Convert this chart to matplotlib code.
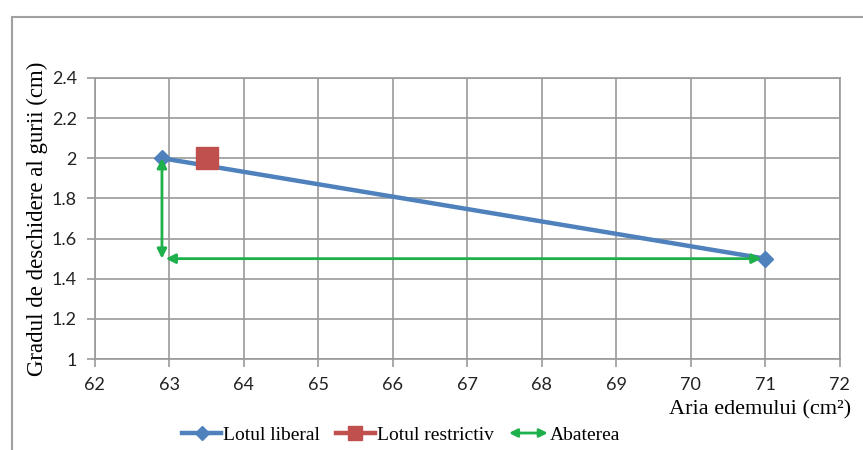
import matplotlib
matplotlib.use("Agg")
import matplotlib.pyplot as plt
from matplotlib.lines import Line2D
from matplotlib.patches import Rectangle, FancyArrowPatch
from matplotlib.legend_handler import HandlerBase

# data
liberal_x = [62.9, 71.0]
liberal_y = [2.0, 1.5]
restrictiv_x = [63.5]
restrictiv_y = [2.0]
# deviation arrows: (x0, y0, x1, y1)
abatere_vert = [62.9, 2.0, 62.9, 1.5]
abatere_horiz = [62.95, 1.5, 70.95, 1.5]

x_ticks = list(range(62, 73))
y_ticks = [1, 1.2, 1.4, 1.6, 1.8, 2, 2.2, 2.4]
y_labels = ["1", "1.2", "1.4", "1.6", "1.8", "2", "2.2", "2.4"]

BLUE = "#4F81BD"
RED = "#C0504D"
GREEN = "#1DB04B"
GRID = "#9A9A9A"
SERIF = "Liberation Serif"
TICKFONT = "Lato"


class ArrowHandler(HandlerBase):
    # double headed arrow in the legend
    def create_artists(self, legend, orig_handle, xdescent, ydescent,
                       width, height, fontsize, trans):
        y = height / 2 - ydescent
        arr = FancyArrowPatch((-xdescent, y), (width - xdescent, y),
                              arrowstyle="<|-|>", color=GREEN, lw=2,
                              mutation_scale=12, shrinkA=0, shrinkB=0,
                              transform=trans)
        return [arr]


fig = plt.figure(figsize=(8.63, 4.5), dpi=100)
ax = fig.add_axes([0.110, 0.202, 0.863, 0.625])

# outer chart border
fig.patches.append(Rectangle((12 / 863, -0.05), 1.0, 1 - 17 / 450 + 0.05,
                             transform=fig.transFigure, fill=False,
                             edgecolor="#A0A0A0", linewidth=1.5))

ax.plot(liberal_x, liberal_y, color=BLUE, linewidth=3.2, marker="D",
        markersize=8, zorder=3)
ax.plot(restrictiv_x, restrictiv_y, color=RED, linestyle="none", marker="s",
        markersize=16, zorder=4)

for x0, y0, x1, y1 in (abatere_vert, abatere_horiz):
    ax.annotate("", xy=(x1, y1), xytext=(x0, y0),
                arrowprops=dict(arrowstyle="<|-|>", color=GREEN, lw=2,
                                mutation_scale=14, shrinkA=0, shrinkB=0),
                zorder=5)

ax.set_xlim(62, 72)
ax.set_ylim(1, 2.4)
ax.set_xticks(x_ticks)
ax.set_yticks(y_ticks)
ax.set_yticklabels(y_labels)
ax.grid(True, color=GRID, linewidth=1.2)
ax.set_axisbelow(True)
for s in ax.spines.values():
    s.set_color(GRID)
    s.set_linewidth(1.2)
ax.tick_params(axis="both", colors=GRID, length=6, width=1.2, labelcolor="#222222",
               labelsize=13)
for lab in ax.get_xticklabels() + ax.get_yticklabels():
    lab.set_fontfamily(TICKFONT)
ax.tick_params(axis="x", pad=7)
ax.tick_params(axis="y", pad=7)

ax.set_ylabel("Gradul de deschidere al gurii (cm)", fontfamily=SERIF,
              fontsize=16.5, labelpad=3)
fig.text(0.986, 1 - 410 / 450, "Aria edemului (cm\u00b2)", ha="right",
         va="center", fontfamily=SERIF, fontsize=16)

handles = [
    Line2D([], [], color=BLUE, linewidth=3.2, marker="D", markersize=7),
    Line2D([], [], color=RED, linewidth=3.2, marker="s", markersize=10),
    "arrow",
]
leg = fig.legend(handles, ["Lotul liberal", "Lotul restrictiv", "Abaterea"],
                 loc="center", bbox_to_anchor=(0.465, 1 - 435 / 450), ncol=3,
                 frameon=False, prop={"family": SERIF, "size": 14},
                 handlelength=2.0, handletextpad=0.1, columnspacing=0.8,
                 handler_map={str: ArrowHandler()})

fig.savefig("out.png", dpi=100)
